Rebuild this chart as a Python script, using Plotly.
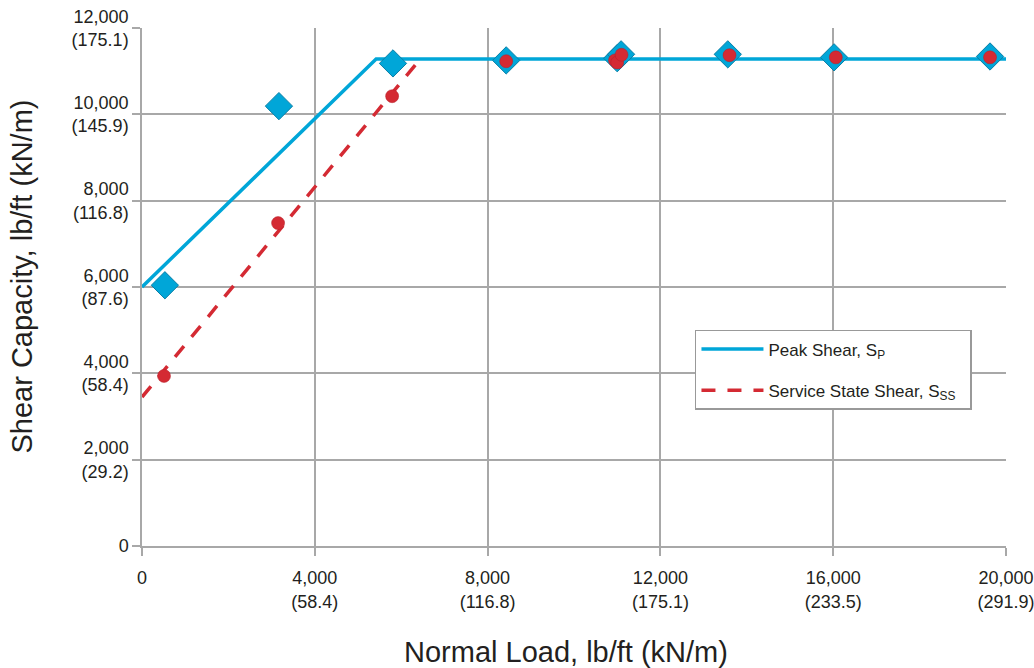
import plotly.graph_objects as go

# Measured data points
peak_x = [530, 3170, 5810, 8430, 11000, 11090, 13560, 16020, 19630]
peak_y = [6040, 10190, 11180, 11250, 11300, 11390, 11390, 11320, 11340]

service_x = [510, 3150, 5790, 8430, 10950, 11000, 11100, 13600, 16060, 19630]
service_y = [3940, 7480, 10420, 11230, 11250, 11200, 11380, 11370, 11320, 11320]

# Fitted envelope lines
peak_line_x = [0, 5420, 20000]
peak_line_y = [6000, 11280, 11280]
service_line_x = [0, 6430]
service_line_y = [3450, 11270]

x_tickvals = [0, 4000, 8000, 12000, 16000, 20000]
x_ticktext = ["0", "4,000<br>(58.4)", "8,000<br>(116.8)", "12,000<br>(175.1)",
              "16,000<br>(233.5)", "20,000<br>(291.9)"]
y_tickvals = [0, 2000, 4000, 6000, 8000, 10000, 12000]
y_ticktext = ["0", "2,000<br>(29.2)", "4,000<br>(58.4)", "6,000<br>(87.6)",
              "8,000<br>(116.8)", "10,000<br>(145.9)", "12,000<br>(175.1)"]

BLUE = "#00a6d8"
RED = "#d42a33"
FONT = "Liberation Sans, Arial, sans-serif"
TXT = "#231f20"

fig = go.Figure()
fig.add_trace(go.Scatter(
    x=peak_line_x, y=peak_line_y, mode="lines",
    line=dict(color=BLUE, width=3.5),
    name="Peak Shear, S<sub>P</sub>", legendgroup="a"))
fig.add_trace(go.Scatter(
    x=service_line_x, y=service_line_y, mode="lines",
    line=dict(color=RED, width=3.5, dash="14px,12px"),
    name="Service State Shear, S<sub>SS</sub>  ", legendgroup="b"))
fig.add_trace(go.Scatter(
    x=peak_x, y=peak_y, mode="markers",
    marker=dict(symbol="diamond", size=21, color=BLUE,
                line=dict(color="#0a7fa6", width=1)),
    showlegend=False))
fig.add_trace(go.Scatter(
    x=service_x, y=service_y, mode="markers",
    marker=dict(symbol="circle", size=13, color=RED,
                line=dict(color="#b51e28", width=0.5)),
    showlegend=False))

axis_common = dict(
    showgrid=True, gridcolor="#a8a8a8", gridwidth=1.5,
    showline=True, linecolor="#a8a8a8", linewidth=1.5,
    ticks="outside", ticklen=8, tickcolor="#a8a8a8", tickwidth=1.5,
    zeroline=False, automargin=False, ticklabeloverflow="allow",
    tickfont=dict(family=FONT, size=18, color=TXT),
)

fig.update_layout(
    width=1034, height=668,
    paper_bgcolor="white", plot_bgcolor="white",
    margin=dict(l=142, r=28, t=28, b=122, autoexpand=False),
    font=dict(family=FONT, color=TXT),
    xaxis=dict(range=[0, 20000], tickvals=x_tickvals, ticktext=x_ticktext,
               ticklabelstandoff=7, **axis_common),
    yaxis=dict(range=[0, 12000], tickvals=y_tickvals, ticktext=y_ticktext,
               **axis_common),
    legend=dict(x=0.640, y=0.417, xanchor="left", yanchor="top",
                bgcolor="white", bordercolor="#999999", borderwidth=1.5,
                font=dict(size=17, family=FONT, color=TXT), itemwidth=62,
                tracegroupgap=16),
    annotations=[
        dict(text="Normal Load, lb/ft (kN/m)", xref="paper", yref="paper",
             x=0.491, y=-0.2046, xanchor="center", yanchor="middle",
             showarrow=False, font=dict(size=29, family=FONT, color=TXT)),
        dict(text="Shear Capacity, lb/ft (kN/m)", xref="paper", yref="paper",
             x=-0.139, y=0.52, xanchor="center", yanchor="middle",
             textangle=-90, showarrow=False,
             font=dict(size=29, family=FONT, color=TXT)),
    ],
)

fig.write_html("out.html", config={"displayModeBar": False},
               post_script="document.body.style.margin='0px';document.body.style.overflow='hidden';")
